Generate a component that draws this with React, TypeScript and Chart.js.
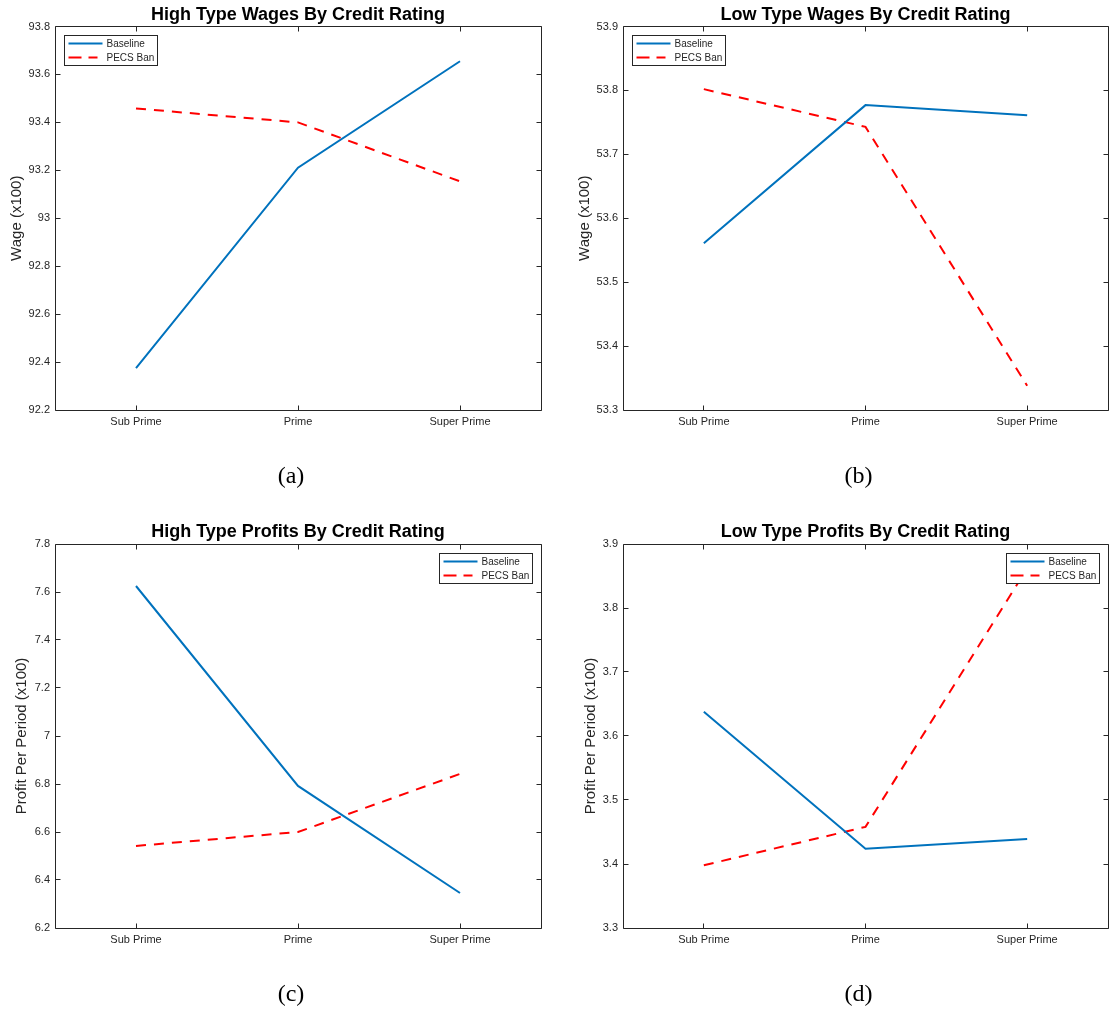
import { useEffect, useRef } from 'react';
import { Chart, registerables } from 'chart.js';

Chart.register(...registerables);

// Shared categories and series names
const ratings = ['Sub Prime', 'Prime', 'Super Prime'];
const seriesNames = ['Baseline', 'PECS Ban'];

// (a) High type wages (x100)
const highWageBaseline = [92.375, 93.211, 93.655];
const highWagePecs = [93.458, 93.4, 93.154];
const highWageTicks = ['92.2', '92.4', '92.6', '92.8', '93', '93.2', '93.4', '93.6', '93.8'];

// (b) Low type wages (x100)
const lowWageBaseline = [53.561, 53.777, 53.761];
const lowWagePecs = [53.802, 53.743, 53.338];
const lowWageTicks = ['53.3', '53.4', '53.5', '53.6', '53.7', '53.8', '53.9'];

// (c) High type profits per period (x100)
const highProfitBaseline = [7.625, 6.792, 6.346];
const highProfitPecs = [6.542, 6.6, 6.842];
const highProfitTicks = ['6.2', '6.4', '6.6', '6.8', '7', '7.2', '7.4', '7.6', '7.8'];

// (d) Low type profits per period (x100)
const lowProfitBaseline = [3.638, 3.424, 3.439];
const lowProfitPecs = [3.398, 3.458, 3.862];
const lowProfitTicks = ['3.3', '3.4', '3.5', '3.6', '3.7', '3.8', '3.9'];

const SANS = "'Liberation Sans', Arial, Helvetica, sans-serif";
const SERIF = "'Liberation Serif', 'Times New Roman', serif";
const AXIS_COLOR = '#262626';
const BLUE = '#0072BD';
const RED = '#FF0000';
const DASH = [10, 8];

type Rect = { left: number; top: number; right: number; bottom: number };
type Frame = { x: number; y: number; w: number; h: number };

interface Panel {
  title: string;
  yLabel: string;
  caption: string;
  baseline: number[];
  pecs: number[];
  ticks: string[];
  legendSide: 'left' | 'right';
  area: Rect;
  frame: Frame;
  yLabelGap: number;
}

const panels: Panel[] = [
  {
    title: 'High Type Wages By Credit Rating',
    yLabel: 'Wage (x100)',
    caption: '(a)',
    baseline: highWageBaseline,
    pecs: highWagePecs,
    ticks: highWageTicks,
    legendSide: 'left',
    area: { left: 55, top: 26.5, right: 541, bottom: 410 },
    frame: { x: 0, y: 0, w: 554, h: 505 },
    yLabelGap: 38,
  },
  {
    title: 'Low Type Wages By Credit Rating',
    yLabel: 'Wage (x100)',
    caption: '(b)',
    baseline: lowWageBaseline,
    pecs: lowWagePecs,
    ticks: lowWageTicks,
    legendSide: 'left',
    area: { left: 623, top: 26.5, right: 1108, bottom: 410 },
    frame: { x: 554, y: 0, w: 555, h: 505 },
    yLabelGap: 38,
  },
  {
    title: 'High Type Profits By Credit Rating',
    yLabel: 'Profit Per Period (x100)',
    caption: '(c)',
    baseline: highProfitBaseline,
    pecs: highProfitPecs,
    ticks: highProfitTicks,
    legendSide: 'right',
    area: { left: 55, top: 544, right: 541, bottom: 928 },
    frame: { x: 0, y: 505, w: 554, h: 506 },
    yLabelGap: 33,
  },
  {
    title: 'Low Type Profits By Credit Rating',
    yLabel: 'Profit Per Period (x100)',
    caption: '(d)',
    baseline: lowProfitBaseline,
    pecs: lowProfitPecs,
    ticks: lowProfitTicks,
    legendSide: 'right',
    area: { left: 623, top: 544, right: 1108, bottom: 928 },
    frame: { x: 554, y: 505, w: 555, h: 506 },
    yLabelGap: 32,
  },
];

const crisp = (v: number) => Math.round(v - 0.5) + 0.5;

// Draws the boxed axes with inward ticks, title, y label, caption and legend
function decorations(panel: Panel) {
  return {
    id: 'panelDecorations',
    afterDraw(chart: any) {
      const { ctx, chartArea } = chart;
      const xs = chart.scales.x;
      const ys = chart.scales.y;
      const L = crisp(chartArea.left);
      const R = crisp(chartArea.right);
      const T = crisp(chartArea.top);
      const B = crisp(chartArea.bottom);
      const tick = 5;

      ctx.save();
      ctx.strokeStyle = AXIS_COLOR;
      ctx.lineWidth = 1;
      ctx.setLineDash([]);
      ctx.beginPath();
      ctx.rect(L, T, R - L, B - T);
      ctx.stroke();

      ctx.beginPath();
      ratings.forEach((_, i) => {
        const px = crisp(xs.getPixelForTick(i));
        ctx.moveTo(px, B);
        ctx.lineTo(px, B - tick);
        ctx.moveTo(px, T);
        ctx.lineTo(px, T + tick);
      });
      ys.ticks.forEach((t: any) => {
        const py = crisp(ys.getPixelForValue(t.value));
        ctx.moveTo(L, py);
        ctx.lineTo(L + tick, py);
        ctx.moveTo(R, py);
        ctx.lineTo(R - tick, py);
      });
      ctx.stroke();

      const cx = (chartArea.left + chartArea.right) / 2;
      const cy = (chartArea.top + chartArea.bottom) / 2;

      // Title
      ctx.fillStyle = '#000000';
      ctx.font = `bold 18px ${SANS}`;
      ctx.textAlign = 'center';
      ctx.textBaseline = 'alphabetic';
      ctx.fillText(panel.title, cx, chartArea.top - 7);

      // Y axis label
      ctx.save();
      ctx.translate(chartArea.left - panel.yLabelGap, cy);
      ctx.rotate(-Math.PI / 2);
      ctx.fillStyle = AXIS_COLOR;
      ctx.font = `15px ${SANS}`;
      ctx.textAlign = 'center';
      ctx.textBaseline = 'middle';
      ctx.fillText(panel.yLabel, 0, 0);
      ctx.restore();

      // Sub-figure caption
      ctx.fillStyle = '#000000';
      ctx.font = `24px ${SERIF}`;
      ctx.textAlign = 'center';
      ctx.textBaseline = 'alphabetic';
      ctx.fillText(panel.caption, cx - 7, chartArea.bottom + 72.5);

      // Legend
      const w = 93;
      const h = 30;
      const lx = panel.legendSide === 'left' ? L + 9 : R - 9 - w;
      const ly = T + 9;
      ctx.fillStyle = '#ffffff';
      ctx.fillRect(lx, ly, w, h);
      ctx.strokeStyle = AXIS_COLOR;
      ctx.lineWidth = 1;
      ctx.strokeRect(lx, ly, w, h);

      const rows = [
        { color: BLUE, dash: [] as number[], len: 34 },
        { color: RED, dash: [13, 7], len: 29 },
      ];
      rows.forEach((row, i) => {
        const ry = ly + 8 + i * 14;
        ctx.beginPath();
        ctx.strokeStyle = row.color;
        ctx.lineWidth = 2;
        ctx.setLineDash(row.dash);
        ctx.moveTo(lx + 4, ry);
        ctx.lineTo(lx + 4 + row.len, ry);
        ctx.stroke();
        ctx.setLineDash([]);
        ctx.fillStyle = AXIS_COLOR;
        ctx.font = `10px ${SANS}`;
        ctx.textAlign = 'left';
        ctx.textBaseline = 'middle';
        ctx.fillText(seriesNames[i], lx + 42, ry + 0.5);
      });
      ctx.restore();
    },
  };
}

function PanelChart({ panel }: { panel: Panel }) {
  const ref = useRef<HTMLCanvasElement | null>(null);

  useEffect(() => {
    const canvas = ref.current;
    if (!canvas) return;
    const { area, frame } = panel;
    const tickValues = panel.ticks.map(Number);
    const yAxisWidth = area.left - frame.x;
    const xAxisHeight = frame.y + frame.h - area.bottom;
    const chart = new Chart(canvas, {
      type: 'line',
      data: {
        labels: ratings,
        datasets: [
          {
            label: seriesNames[0],
            data: panel.baseline,
            borderColor: BLUE,
            backgroundColor: BLUE,
            borderWidth: 2,
            pointRadius: 0,
            tension: 0,
            fill: false,
          },
          {
            label: seriesNames[1],
            data: panel.pecs,
            borderColor: RED,
            backgroundColor: RED,
            borderWidth: 2,
            borderDash: DASH,
            pointRadius: 0,
            tension: 0,
            fill: false,
          },
        ],
      },
      options: {
        responsive: false,
        animation: false,
        devicePixelRatio: 1,
        events: [],
        layout: {
          padding: {
            left: 0,
            top: area.top - frame.y,
            right: frame.x + frame.w - area.right,
            bottom: 0,
          },
        },
        plugins: {
          legend: { display: false },
          title: { display: false },
          tooltip: { enabled: false },
        },
        scales: {
          x: {
            type: 'category',
            offset: true,
            grid: { display: false, drawTicks: false },
            border: { display: false },
            ticks: {
              color: AXIS_COLOR,
              font: { family: SANS, size: 11 },
              padding: 5,
              maxRotation: 0,
              autoSkip: false,
            },
            afterFit(scale: any) {
              scale.height = xAxisHeight;
            },
          },
          y: {
            type: 'linear',
            min: tickValues[0],
            max: tickValues[tickValues.length - 1],
            grid: { display: false, drawTicks: false },
            border: { display: false },
            ticks: {
              color: AXIS_COLOR,
              font: { family: SANS, size: 11 },
              padding: 5,
              callback: (_v: any, i: number) => panel.ticks[i],
            },
            afterBuildTicks(scale: any) {
              scale.ticks = tickValues.map((v) => ({ value: v }));
            },
            afterFit(scale: any) {
              scale.width = yAxisWidth;
            },
          },
        },
      },
      plugins: [decorations(panel)],
    });
    return () => chart.destroy();
  }, [panel]);

  const { frame } = panel;
  return (
    <canvas
      ref={ref}
      width={frame.w}
      height={frame.h}
      style={{
        position: 'absolute',
        left: frame.x,
        top: frame.y,
        width: frame.w,
        height: frame.h,
      }}
    />
  );
}

export default function App() {
  useEffect(() => {
    document.body.style.margin = '0';
    document.body.style.background = '#ffffff';
  }, []);

  return (
    <div style={{ position: 'relative', width: 1109, height: 1011, background: '#ffffff' }}>
      {panels.map((p) => (
        <PanelChart key={p.caption} panel={p} />
      ))}
    </div>
  );
}
